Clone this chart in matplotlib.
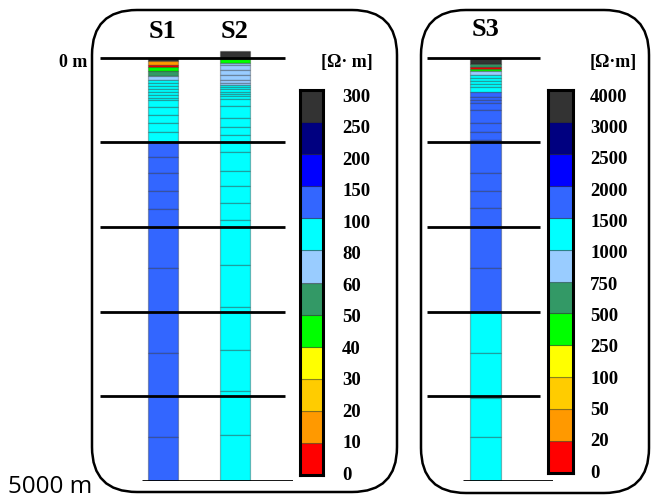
import matplotlib
matplotlib.use("Agg")
import matplotlib.pyplot as plt
from matplotlib.patches import FancyBboxPatch

# ---------------- data ----------------
class_colors = ["#FF0000", "#FF9900", "#FFCC00", "#FFFF00", "#00FF00", "#339966",
                "#99CCFF", "#00FFFF", "#3366FF", "#0000FF", "#000080", "#333333"]
left_scale_labels = ["0", "10", "20", "30", "40", "50", "60", "80", "100", "150", "200", "250", "300"]
right_scale_labels = ["0", "20", "50", "100", "250", "500", "750", "1000", "1500", "2000", "2500", "3000", "4000"]
depth_lines = [0, 1000, 2000, 3000, 4000, 5000]

# layer boundaries (m) and resistivity class of each layer
s1_bounds = [0, 47, 83, 112, 165, 218, 266, 301, 336, 372, 407, 443, 478, 502, 581, 679, 773,
             876, 998, 1174, 1363, 1575, 1788, 2484, 3487, 4478, 5000]
s1_class = [11, 1, 0, 4, 5, 6, 7, 7, 7, 7, 7, 7, 7, 7, 7, 7, 7, 7, 8, 8, 8, 8, 8, 8, 8, 8]

s2_bounds = [-77, 12, 65, 89, 148, 207, 266, 305, 325, 345, 372, 404, 431, 460, 490, 573, 714,
             817, 915, 1112, 1337, 1517, 1718, 1919, 2450, 2942, 3453, 3937, 4457, 5000]
s2_class = [11, 4, 6, 6, 6, 6, 6, 6, 7, 7, 7, 7, 7, 7, 7, 7, 7, 7, 7, 7, 7, 7, 7, 7, 7, 7, 7, 7, 7]

s3_bounds = [0, 77, 112, 136, 159, 207, 242, 278, 313, 348, 404, 463, 502, 537, 620, 773, 876,
             974, 1364, 1573, 1777, 2485, 3000, 3485, 4020, 4477, 5000]
s3_class = [11, 5, 0, 4, 6, 7, 7, 7, 7, 7, 8, 8, 8, 8, 8, 8, 8, 8, 8, 8, 8, 8, 7, 7, 7, 7]

left_names = ["S1", "S2"]
right_names = ["S3"]

# ---------------- layout ----------------
W, H = 653, 499
fig = plt.figure(figsize=(W / 100, H / 100), dpi=100)
serif = "Liberation Serif"


def px_axes(x0, y0, x1, y1, **kw):
    return fig.add_axes([x0 / W, 1 - y1 / H, (x1 - x0) / W, (y1 - y0) / H], **kw)


bg = px_axes(0, 0, W, H)
bg.set_xlim(0, W)
bg.set_ylim(H, 0)
bg.axis("off")
for (x0, y0, w, h) in [(92, 10, 305, 482), (421, 10, 228, 483)]:
    bg.add_patch(FancyBboxPatch((x0, y0), w, h, boxstyle="round,pad=0,rounding_size=45",
                                fill=False, lw=1.8, ec="black"))

y0px, y5px = 57.5, 481.0
ppm = (y5px - y0px) / 5000.0
top_depth = -150
top_px = y0px + top_depth * ppm
unit = 72.0  # px per category


def column_axes(x_left, x_right, center_px):
    ax = px_axes(x_left, top_px, x_right, y5px)
    ax.set_ylim(5000, top_depth)
    ax.set_xlim((x_left - center_px) / unit, (x_right - center_px) / unit)
    ax.set_frame_on(False)
    ax.set_yticks([])
    ax.xaxis.tick_top()
    ax.tick_params(axis="x", length=0, pad=1.5)
    return ax


def draw_column(ax, i, bounds, classes):
    for top, bot, c in zip(bounds[:-1], bounds[1:], classes):
        ax.bar(i, bot - top, bottom=top, width=0.417, color=class_colors[c],
               edgecolor=(0, 0, 0, 0.28), linewidth=0.9, zorder=2)


# left panel
axL = column_axes(100, 293, 163)
draw_column(axL, 0, s1_bounds, s1_class)
draw_column(axL, 1, s2_bounds, s2_class)
axL.set_xticks(range(len(left_names)), left_names, fontfamily=serif, fontweight="bold", fontsize=19)
axL.hlines(depth_lines[:-1], (100 - 163) / unit, (285 - 163) / unit, color="black", lw=2.0, zorder=3)
axL.hlines(depth_lines[-1], (142 - 163) / unit, (293 - 163) / unit, color="black", lw=2.0, zorder=3)
axL.text((87 - 163) / unit, 55, "0 m", ha="right", va="center", fontfamily=serif,
         fontweight="bold", fontsize=13)

# right panel
axR = column_axes(427, 553, 485.5)
draw_column(axR, 0, s3_bounds, s3_class)
axR.set_xticks(range(len(right_names)), right_names, fontfamily=serif, fontweight="bold", fontsize=19)
axR.tick_params(axis="x", pad=3)
axR.hlines(depth_lines[:-1], (427 - 485.5) / unit, (540 - 485.5) / unit, color="black", lw=2.0, zorder=3)
axR.hlines(depth_lines[-1], (463 - 485.5) / unit, (553 - 485.5) / unit, color="black", lw=2.0, zorder=3)


def colorbar_axes(x0, y0, x1, y1, labels, pad_px):
    ax = px_axes(x0, y0, x1, y1)
    n = len(class_colors)
    for k, col in enumerate(class_colors):
        ax.bar(0, 1, bottom=k, width=1, color=col, edgecolor=(0, 0, 0, 0.35), linewidth=0.8)
    ax.set_xlim(-0.5, 0.5)
    ax.set_ylim(0, n)
    ax.set_xticks([])
    pos = [0.06 + k * (n - 0.22) / n for k in range(len(labels))]
    ax.yaxis.tick_right()
    ax.set_yticks(pos, labels, fontfamily=serif, fontweight="bold", fontsize=13.5)
    ax.tick_params(axis="y", length=0, pad=pad_px * 0.72)
    for s in ax.spines.values():
        s.set_linewidth(2.2)
    return ax


colorbar_axes(300, 90, 323, 475, left_scale_labels, 19)
colorbar_axes(548, 90, 573, 473, right_scale_labels, 17)

bg.text(347, 62, "[Ω· m]", ha="center", va="center", fontfamily=serif, fontweight="bold", fontsize=13)
bg.text(613, 62, "[Ω·m]", ha="center", va="center", fontfamily=serif, fontweight="bold", fontsize=13)
bg.text(8, 487, "5000 m", ha="left", va="center", fontfamily="Open Sans", fontsize=17.5)

fig.savefig("out.png", dpi=100)
